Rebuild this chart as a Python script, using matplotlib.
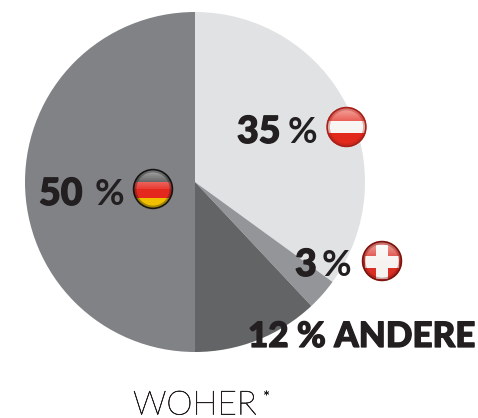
import matplotlib
matplotlib.use("Agg")
import matplotlib.pyplot as plt
import matplotlib.patheffects as pe
import numpy as np
from matplotlib.patches import Circle, Rectangle

W, H = 478, 418
shares = [35, 3, 12, 50]
slice_colors = ["#e1e2e4", "#939598", "#636466", "#808285"]
ink = "#231f20"
FONT = ["Lato", "Open Sans", "DejaVu Sans"]

fig = plt.figure(figsize=(W / 100, H / 100), dpi=100, facecolor="white")

# Pie axes: centre (195,182), radius 170 px
R = 170
ax = fig.add_axes([(195 - R) / W, 1 - (182 + R) / H, 2 * R / W, 2 * R / H])
ax.pie(shares, colors=slice_colors, startangle=90, counterclock=False, radius=1,
       wedgeprops=dict(linewidth=0))
ax.set_xlim(-1, 1)
ax.set_ylim(-1, 1)
ax.set_aspect("equal")
ax.axis("off")

# Overlay in pixel coordinates for labels and flag badges
ov = fig.add_axes([0, 0, 1, 1])
ov.set_xlim(0, W)
ov.set_ylim(H, 0)
ov.axis("off")
ov.patch.set_alpha(0)


def badge(cx, cy, r, stripes, rim, cross=False):
    clip = Circle((cx, cy), r, transform=ov.transData)
    y = cy - r
    total = sum(s[0] for s in stripes)
    for frac, col in stripes:
        h = 2 * r * frac / total
        p = Rectangle((cx - r, y), 2 * r, h, fc=col, ec="none", zorder=3)
        ov.add_patch(p)
        p.set_clip_path(clip)
        y += h
    if cross:
        a, b = r * 0.84, r * 0.31
        for rect in [(cx - a, cy + 1 - b, 2 * a, 2 * b), (cx - b, cy + 1 - a, 2 * b, 2 * a)]:
            ov.add_patch(Rectangle(rect[:2], rect[2], rect[3], fc="#f6f2ef", ec="none", zorder=4))
    # glossy highlight: white fading downwards over the upper half
    alpha = np.linspace(0.62, 0.10, 32)[:, None]
    rgba = np.ones((32, 1, 4))
    rgba[..., 3] = alpha
    im = ov.imshow(rgba, extent=(cx - r, cx + r, cy, cy - r), aspect="auto",
                   zorder=5, interpolation="bilinear")
    im.set_clip_path(clip)
    # soft dark edge
    ov.add_patch(Circle((cx, cy), r - 2.0, fc="none", ec=rim, lw=2.0, alpha=0.35, zorder=6))
    ov.add_patch(Circle((cx, cy), r - 0.6, fc="none", ec=rim, lw=1.2, zorder=6))


badge(346.5, 127, 20, [(14, "#e22a1c"), (12, "#f7f5f2"), (14, "#e22a1c")], "#a8201a")
badge(382, 261, 20, [(1, "#d92f24")], "#7c1410", cross=True)
badge(153, 189, 20, [(13, "#2b2b2b"), (16, "#e5281e"), (11, "#f0c000")], "#141414")
ov.set_xlim(0, W)
ov.set_ylim(H, 0)
ov.set_aspect("auto")

heavy = [pe.withStroke(linewidth=0.9, foreground=ink)]
thin = [pe.withStroke(linewidth=0.45, foreground="#231f20")]
labels = [
    (237, 288, 143, "35"),
    (295, 322, 276, "3"),
    (39, 95, 205, "50"),
]
for x_num, x_pct, base, num in labels:
    ov.text(x_num, base, num, fontsize=27, fontweight="black", family=FONT, color=ink,
            ha="left", va="baseline", zorder=7, path_effects=heavy)
    ov.text(x_pct, base, "%", fontsize=26, fontweight="bold", family=FONT, color=ink,
            ha="left", va="baseline", zorder=7)

ov.text(248, 347, "12 % ANDERE", fontsize=25.2, fontweight="black", family=FONT, color=ink,
        ha="left", va="baseline", zorder=7, path_effects=heavy)
ov.text(133, 414.5, "WOHER", fontsize=24, fontweight="light", family=FONT, color="#231f20",
        ha="left", va="baseline", zorder=7, path_effects=thin)
ov.text(263, 403, "*", fontsize=12, fontweight="light", family=FONT, color="#231f20",
        ha="left", va="baseline", zorder=7, path_effects=thin)

fig.savefig("out.png", dpi=100, facecolor="white")
